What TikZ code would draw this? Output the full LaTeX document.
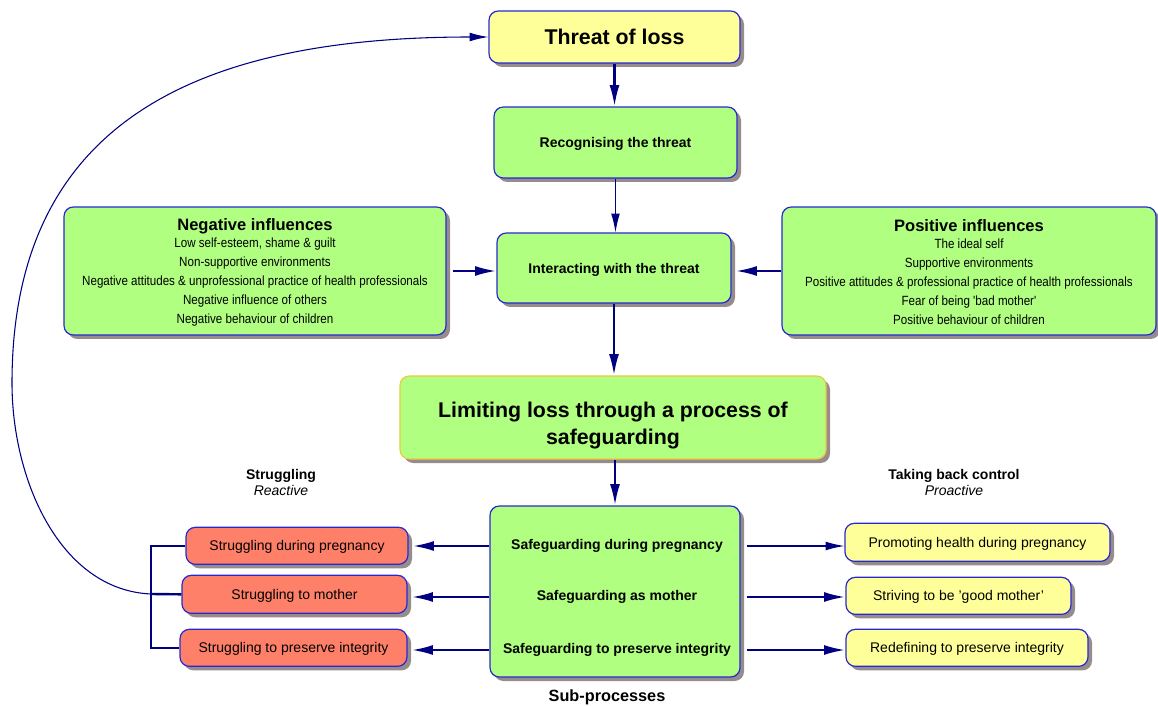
\documentclass[tikz,border=0pt]{standalone}
\usepackage{fontspec}
\setmainfont{Liberation Sans}
\newfontfamily\narrowsans[FakeStretch=0.87]{Liberation Sans}
\usetikzlibrary{arrows.meta,shadows}
\definecolor{boxblue}{RGB}{40,40,210}
\definecolor{limborder}{RGB}{240,200,60}
\definecolor{navyline}{RGB}{0,0,128}
\definecolor{yelfill}{RGB}{255,255,153}
\definecolor{grnfill}{RGB}{176,255,128}
\definecolor{salfill}{RGB}{255,128,104}
\definecolor{shadowgray}{RGB}{150,140,140}
\begin{document}
\begin{tikzpicture}[x=0.75pt,y=-0.75pt,
  box/.style={draw=boxblue, line width=0.9pt, rounded corners=7pt, inner sep=0pt,
    align=center, general shadow={fill=shadowgray, shadow xshift=3pt, shadow yshift=-3pt}},
  yelbox/.style={box, fill=yelfill},
  grnbox/.style={box, fill=grnfill},
  salbox/.style={box, fill=salfill},
  smalltext/.style={font=\fontsize{10.5}{12.6}\selectfont, text depth=0pt, yshift=-1pt},
  boldtext/.style={font=\bfseries\fontsize{10.5}{12.6}\selectfont},
  infltext/.style={align=center, inner sep=0pt, font=\narrowsans\fontsize{10}{14.25}\selectfont},
  thickarrow/.style={draw=navyline, line width=1.8pt, -{Latex[length=16pt,width=7.5pt]}},
  thinarrow/.style={draw=navyline, line width=0.8pt, -{Latex[length=14pt,width=6.5pt]}},
  bracketline/.style={draw=navyline, line width=1.8pt},
]
\useasboundingbox (0,0) rectangle (1158,706);

% main chain
\node[yelbox, minimum width=188.25pt, minimum height=39pt, text depth=0pt,
  font=\bfseries\fontsize{16}{19}\selectfont] (threat) at (614.5,37) {Threat of loss};
\node[grnbox, minimum width=182.25pt, minimum height=53.25pt, boldtext, text depth=0pt] (rec) at (615.5,142.5) {Recognising the threat};
\node[grnbox, minimum width=175.5pt, minimum height=52.5pt, boldtext, text depth=0pt] (int) at (614,268) {Interacting with the threat};

% influences
\node[grnbox, minimum width=286.5pt, minimum height=96pt] (neg) at (255,271) {};
\node[infltext] (negtxt) at (255,272) {{\normalfont\bfseries\fontsize{12.4}{14}\selectfont Negative influences}\\[-1.5pt]
  Low self-esteem, shame \& guilt\\
  Non-supportive environments\\
  Negative attitudes \& unprofessional practice of health professionals\\
  Negative influence of others\\
  Negative behaviour of children};
\node[grnbox, minimum width=280.5pt, minimum height=96pt] (pos) at (969,271) {};
\node[infltext] (postxt) at (969,272) {{\normalfont\bfseries\fontsize{12.4}{14}\selectfont Positive influences}\\[-1.5pt]
  The ideal self\\
  Supportive environments\\
  Positive attitudes \& professional practice of health professionals\\
  Fear of being 'bad mother'\\
  Positive behaviour of children};

% core category
\node[box, draw=limborder, fill=grnfill, minimum width=319.5pt, minimum height=62.25pt] (lim) at (613,417.5) {};
\node[align=center, inner sep=0pt, font=\bfseries\fontsize{16}{20.25}\selectfont] (limtxt) at (613,426)
  {Limiting loss through a process of\\safeguarding};

% sub-processes
\node[grnbox, minimum width=187.5pt, minimum height=128.25pt] (safe) at (615,591.5) {};
\node[boldtext] (sg1) at (617,546) {Safeguarding during pregnancy};
\node[boldtext] (sg2) at (617,597) {Safeguarding as mother};
\node[boldtext] (sg3) at (617,650) {Safeguarding to preserve integrity};
\node[font=\bfseries\fontsize{12.2}{14}\selectfont] (subp) at (607,697) {Sub-processes};

% reactive side
\node[align=center, inner sep=0pt] (reac) at (281,482)
  {{\bfseries\fontsize{10.5}{12.75}\selectfont Struggling}\\{\itshape\fontsize{10.5}{12.75}\selectfont Reactive}};
\node[salbox, minimum width=166.5pt, minimum height=27.75pt, smalltext] (s1) at (297,544.5) {Struggling during pregnancy};
\node[salbox, minimum width=168.75pt, minimum height=28.5pt, smalltext] (s2) at (294.5,593) {Struggling to mother};
\node[salbox, minimum width=170.25pt, minimum height=27.75pt, smalltext] (s3) at (293.5,646.5) {Struggling to preserve integrity};

% proactive side
\node[align=center, inner sep=0pt] (proac) at (954,482)
  {{\bfseries\fontsize{10.5}{12.75}\selectfont Taking back control}\\{\itshape\fontsize{10.5}{12.75}\selectfont Proactive}};
\node[yelbox, minimum width=198.75pt, minimum height=28.5pt, smalltext] (p1) at (977.5,541) {Promoting health during pregnancy};
\node[yelbox, minimum width=168.75pt, minimum height=27.75pt, smalltext] (p2) at (958.5,594.5) {Striving to be 'good mother'};
\node[yelbox, minimum width=181.5pt, minimum height=27.75pt, smalltext] (p3) at (967,646.5) {Redefining to preserve integrity};

% connectors of the main chain
\draw[thickarrow] (threat.south) -- (threat.south |- rec.north);
\draw[thinarrow] (rec.south) -- (rec.south |- int.north);
\draw[thickarrow] ([xshift=4.5pt]neg.east) -- (int.west |- neg.east);
\draw[thickarrow] (pos.west) -- ([xshift=3pt]int.east |- pos.west);
\draw[thickarrow] (int.south) -- (int.south |- lim.north);
\draw[thickarrow] ([xshift=1.5pt]lim.south) -- ([xshift=1.5pt]lim.south |- safe.north);

% sub-process connectors
\draw[thickarrow] (safe.west |- sg1) -- ([xshift=3pt]s1.east |- sg1);
\draw[thickarrow] (safe.west |- sg2) -- ([xshift=3pt]s2.east |- sg2);
\draw[thickarrow] (safe.west |- sg3) -- ([xshift=3pt]s3.east |- sg3);
\draw[thinarrow] ([xshift=4.5pt]safe.east |- sg1) -- (p1.west |- sg1);
\draw[thickarrow] ([xshift=4.5pt]safe.east |- sg2) -- (p2.west |- sg2);
\draw[thickarrow] ([xshift=4.5pt]safe.east |- sg3) -- (p3.west |- sg3);

% bracket joining the struggling boxes and the feedback loop
\coordinate (brk) at (151,594);
\draw[bracketline] (s1.west) -| (brk) |- (s3.west);
\draw[bracketline] (brk) -- (s2.west);
\draw[thinarrow] (brk) .. controls (60,590) and (12,480) .. (12,383)
  .. controls (12,120) and (200,37) .. (threat.west);
\end{tikzpicture}
\end{document}
